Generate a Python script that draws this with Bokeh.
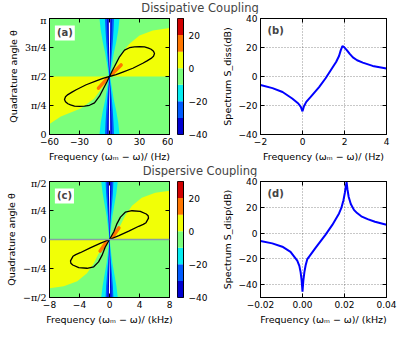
import numpy as np
from bokeh.plotting import figure
from bokeh.models import Range1d, LinearAxis, FixedTicker, Label, Span
from bokeh.layouts import column, row
from bokeh.embed import file_html
from bokeh.resources import INLINE

FONT = "DejaVu Sans"

# ---------------- data ----------------
levels = [-40, -30, -20, -10, 0, 10, 20, 30]
level_colors = ["#0000d1", "#005bff", "#05ecf1", "#7bff7b", "#f1ff06", "#ff7600", "#d10000"]
cbar_ticks = [-40, -20, 0, 20]

# (a) dissipative coupling map: frequency (Hz) vs quadrature angle (units of pi)
a_freq_ticks = [-60, -30, 0, 30, 60]
a_theta_ticks = [0, 0.25, 0.5, 0.75, 1.0]
a_theta_labels = ["0", "π/4", "π/2", "3π/4", "π"]
a_yellow_ur_x = [1.0, 4.0, 8.3, 13.3, 20.0, 30.0, 43.3, 60.0]
a_yellow_ur_t = [0.5, 0.56, 0.628, 0.713, 0.783, 0.854, 0.896, 0.918]
a_yellow_ll_x = [-1.0, -4.0, -8.0, -15.5, -28.8, -48.7, -60.0]
a_yellow_ll_t = [0.5, 0.44, 0.394, 0.309, 0.225, 0.155, 0.09]
a_band_t = [0, 0.1, 0.2, 0.3, 0.4, 0.45, 0.5, 0.55, 0.6, 0.7, 0.8, 0.9, 1.0]
a_cyan_hw = [10, 8.8, 6.8, 4.3, 2.4, 1.5, 0.8, 1.5, 2.4, 4.3, 6.8, 8.8, 10]
a_blue_hw = [4.5, 4.0, 3.3, 2.4, 1.3, 0.7, 0.3, 0.7, 1.3, 2.4, 3.3, 4.0, 4.5]
a_dark_hw = [2.3, 2.1, 1.7, 1.2, 0.7, 0.4, 0.15, 0.4, 0.7, 1.2, 1.7, 2.1, 2.3]
a_white_hw = [0.7, 0.65, 0.55, 0.4, 0.2, 0.05, 0.0, 0.05, 0.2, 0.4, 0.55, 0.65, 0.7]
a_orange_ur_x = [3.0, 11.6]
a_orange_ur_t = [0.525, 0.6]
a_orange_ll_x = [-3.0, -11.0]
a_orange_ll_t = [0.475, 0.4]
a_loop_x = [0, 2.5, 5, 10, 15, 20, 25, 30, 35, 39, 41.6, 44, 45, 44, 41.6, 37.5, 33.3, 23.3, 13.3, 6.6, 0,
            -2.5, -5, -10, -15, -20, -25, -30, -35, -39, -41.6, -44, -45, -44, -41.6, -37.5, -33.3, -23.3, -13.3, -6.6, 0]
a_loop_t = [0.5, 0.545, 0.586, 0.67, 0.727, 0.748, 0.755, 0.758, 0.755, 0.745, 0.735, 0.717, 0.698, 0.675, 0.656,
            0.635, 0.614, 0.571, 0.538, 0.516, 0.5,
            0.455, 0.414, 0.33, 0.273, 0.252, 0.245, 0.242, 0.245, 0.255, 0.265, 0.283, 0.302, 0.325, 0.344,
            0.365, 0.386, 0.429, 0.462, 0.484, 0.5]

# (b) dissipative spectrum
b_freq = [-2, -1.43, -0.95, -0.49, -0.2, -0.08, 0, 0.07, 0.18, 0.39, 0.79, 1.1, 1.43, 1.6, 1.74, 1.82, 1.9,
          1.97, 2.1, 2.25, 2.4, 2.6, 2.87, 3.34, 4]
b_spec = [-5.8, -8.0, -10.7, -15.2, -18.6, -21.0, -24.0, -20.5, -17.5, -14.1, -7.3, -1.2, 6.2, 10.0, 14.1, 18.0, 21.0,
          20.4, 18.4, 15.6, 13.2, 11.2, 9.6, 7.3, 5.5]
b_freq_ticks = [-2, 0, 2, 4]
b_spec_ticks = [-40, -20, 0, 20, 40]

# (c) dispersive coupling map: frequency (kHz) vs quadrature angle (units of pi)
c_freq_ticks = [-8, -4, 0, 4, 8]
c_theta_ticks = [-0.5, -0.25, 0, 0.25, 0.5]
c_theta_labels = ["−π/2", "−π/4", "0", "π/4", "π/2"]
c_yellow_ur_x = [0.15, 0.6, 1.46, 2.1, 3.0, 4.3, 6.1, 8.0]
c_yellow_ur_t = [0.0, 0.06, 0.122, 0.206, 0.29, 0.36, 0.402, 0.42]
c_yellow_ll_x = [-0.15, -0.6, -1.46, -2.1, -3.0, -4.3, -6.1, -8.0]
c_yellow_ll_t = [0.0, -0.06, -0.122, -0.206, -0.29, -0.36, -0.402, -0.42]
c_band_t = [-0.5, -0.4, -0.3, -0.2, -0.1, -0.05, 0, 0.05, 0.1, 0.2, 0.3, 0.4, 0.5]
c_cyan_hw = [1.1, 0.92, 0.65, 0.38, 0.19, 0.1, 0.05, 0.1, 0.19, 0.38, 0.65, 0.92, 1.1]
c_blue_hw = [0.52, 0.45, 0.33, 0.2, 0.1, 0.06, 0.02, 0.06, 0.1, 0.2, 0.33, 0.45, 0.52]
c_dark_hw = [0.27, 0.24, 0.17, 0.1, 0.05, 0.03, 0.01, 0.03, 0.05, 0.1, 0.17, 0.24, 0.27]
c_white_hw = [0.08, 0.07, 0.05, 0.03, 0.01, 0.0, 0.0, 0.0, 0.01, 0.03, 0.05, 0.07, 0.08]
c_orange_ur_x = [0.36, 1.25]
c_orange_ur_t = [0.017, 0.1]
c_orange_ll_x = [-0.36, -1.25]
c_orange_ll_t = [-0.017, -0.1]
c_loop_x = [0, 0.58, 1.0, 1.46, 2.1, 3.0, 4.1, 4.9, 5.15, 5.2, 4.87, 4.5, 3.9, 2.57, 1.25, 0,
            -0.58, -1.0, -1.46, -2.1, -3.0, -4.1, -4.9, -5.15, -5.2, -4.87, -4.5, -3.9, -2.57, -1.25, 0]
c_loop_t = [0, 0.067, 0.137, 0.193, 0.235, 0.248, 0.243, 0.22, 0.205, 0.184, 0.145, 0.13, 0.114, 0.072, 0.034, 0,
            -0.067, -0.137, -0.193, -0.235, -0.248, -0.243, -0.22, -0.205, -0.184, -0.145, -0.13, -0.114, -0.072, -0.034, 0]

# (d) dispersive spectrum
d_freq = [-0.02, -0.0144, -0.0096, -0.0057, -0.0025, -0.0015, -0.0009, -0.0004, 0, 0.0004, 0.0009, 0.0015,
          0.0023, 0.0063, 0.011, 0.0142, 0.0174, 0.0185, 0.0195, 0.0202, 0.0207, 0.021, 0.0214, 0.022, 0.023,
          0.0245, 0.026, 0.028, 0.031, 0.0345, 0.04]
d_spec = [-6.2, -8.0, -10.6, -14.6, -21.4, -25.5, -30.3, -37.0, -45.4, -37.0, -30.3, -25.0,
          -20.2, -11.3, -1.2, 6.3, 15.2, 19.5, 25.5, 31.5, 37.0, 39.5, 34.0, 28.0, 22.5,
          18.0, 15.5, 13.0, 10.8, 8.8, 6.4]
d_freq_ticks = [-0.02, 0.0, 0.02, 0.04]
d_freq_labels = ["−0.02", "0.00", "0.02", "0.04"]
d_spec_ticks = [-40, -20, 0, 20, 40]

ROW_H = 150
MBB = 29


def minus(v):
    return str(v).replace("-", "−")


def style_axis(ax, ticks, labels=None, show=True, label_font=FONT, label_size="9px"):
    ax.ticker = FixedTicker(ticks=ticks)
    ax.major_tick_in = 4
    ax.major_tick_out = 0
    ax.minor_tick_line_color = None
    ax.axis_line_color = "black"
    ax.major_tick_line_color = "black"
    ax.major_label_text_color = "black"
    ax.major_label_text_font = label_font
    ax.major_label_text_font_size = label_size
    ax.major_label_standoff = 3
    ax.axis_label_text_font = FONT
    ax.axis_label_text_font_size = "9.5px"
    ax.axis_label_text_font_style = "normal"
    ax.axis_label_text_color = "black"
    ax.axis_label_standoff = 3
    if labels is None:
        labels = [minus(t) for t in ticks]
    if show:
        ax.major_label_overrides = {t: l for t, l in zip(ticks, labels)}
    else:
        ax.major_label_text_color = None
        ax.major_label_text_font_size = "0px"
        ax.major_label_standoff = 0


def make_fig(width, height, xr, yr, mbl, mbr, mbt=4, mbb=MBB):
    p = figure(width=width, height=height, x_range=Range1d(*xr), y_range=Range1d(*yr),
               toolbar_location=None, output_backend="svg",
               min_border_left=mbl, min_border_right=mbr, min_border_top=mbt, min_border_bottom=mbb)
    p.outline_line_color = "black"
    p.outline_line_width = 1
    p.xgrid.visible = False
    p.ygrid.visible = False
    return p


def frame_axes(p, xticks, yticks, xlabels=None, ylabels=None, xlab="", ylab="", ylabel_font=FONT, ylabel_size="9px"):
    style_axis(p.xaxis[0], xticks, xlabels)
    style_axis(p.yaxis[0], yticks, ylabels, label_font=ylabel_font, label_size=ylabel_size)
    p.xaxis[0].axis_label = xlab
    p.yaxis[0].axis_label = ylab
    top = LinearAxis()
    style_axis(top, xticks, show=False)
    p.add_layout(top, "above")
    right = LinearAxis()
    style_axis(right, yticks, show=False)
    p.add_layout(right, "right")


def hourglass(t, hw):
    xs = list(hw) + [-w for w in reversed(hw)]
    ys = list(t) + list(reversed(t))
    return xs, ys


def map_panel(xr, yr, xticks, yticks, ylabels, xlab, tag, yel_ur, yel_ll, band_t, bands,
              or_ur, or_ll, loop, hline=False):
    p = make_fig(173, ROW_H, xr, yr, 49, 4)
    p.background_fill_color = level_colors[3]
    for (xs, ts) in (yel_ur, yel_ll):
        p.patch(list(xs) + [xs[-1]], list(ts) + [ts[0]], fill_color=level_colors[4], line_color=None)
    for hw, col in zip(bands, [level_colors[2], level_colors[1], level_colors[0], "white"]):
        xs, ys = hourglass(band_t, hw)
        p.patch(xs, ys, fill_color=col, line_color=None)
    for (xs, ts) in (or_ur, or_ll):
        p.line(xs, ts, line_color=level_colors[5], line_width=3.5, line_cap="round")
    if hline:
        p.add_layout(Span(location=0, dimension="width", line_color="#86a0a4", line_width=1.3))
    p.line(loop[0], loop[1], line_color="black", line_width=1.3)
    frame_axes(p, xticks, yticks, ylabels=ylabels, xlab=xlab, ylab="Quadrature angle θ",
               ylabel_font="DejaVu Serif", ylabel_size="9.5px")
    p.add_layout(Label(x=xr[0] + 0.045 * (xr[1] - xr[0]), y=yr[1] - 0.06 * (yr[1] - yr[0]), text=tag,
                       text_font=FONT, text_font_size="10px", text_font_style="bold",
                       text_baseline="top", text_align="left",
                       background_fill_color="white", padding=2))
    return p


def cbar_fig():
    c = figure(width=41, height=ROW_H, x_range=Range1d(0, 1), y_range=Range1d(levels[0], levels[-1]),
               toolbar_location=None, output_backend="svg", x_axis_location=None, y_axis_location="right",
               min_border_left=4, min_border_right=31, min_border_top=4, min_border_bottom=MBB)
    c.quad(left=0, right=1, bottom=levels[:-1], top=levels[1:], fill_color=level_colors, line_color=None)
    c.xgrid.visible = False
    c.ygrid.visible = False
    c.outline_line_color = "black"
    ax = c.yaxis[0]
    style_axis(ax, cbar_ticks)
    ax.major_tick_in = 0
    ax.major_label_standoff = 5
    return c


def spec_panel(xr, yr, x, y, xticks, yticks, xlabels, xlab, ylab, tag):
    p = make_fig(185, ROW_H, xr, yr, 46, 13)
    p.line(x, y, line_color="#0000ff", line_width=2)
    frame_axes(p, xticks, yticks, xlabels=xlabels, xlab=xlab, ylab=ylab)
    for g in (p.xgrid, p.ygrid):
        g.visible = True
        g.grid_line_color = "black"
        g.grid_line_alpha = 0.55
        g.grid_line_dash = "1 2"
        g.grid_line_width = 0.8
    p.add_layout(Label(x=xr[0] + 0.055 * (xr[1] - xr[0]), y=yr[1] - 0.06 * (yr[1] - yr[0]), text=tag,
                       text_font=FONT, text_font_size="10px", text_font_style="bold",
                       text_baseline="top", text_align="left"))
    return p


def title_fig(text, height):
    t = figure(width=399, height=height, x_range=Range1d(0, 1), y_range=Range1d(0, 1),
               toolbar_location=None, output_backend="svg", x_axis_location=None, y_axis_location=None,
               min_border=0)
    t.outline_line_color = None
    t.xgrid.visible = False
    t.ygrid.visible = False
    t.add_layout(Label(x=0.5, y=0.5, text=text, text_align="center", text_baseline="middle",
                       text_font=FONT, text_font_size="11.5px"))
    return t


pa = map_panel((-60, 60), (0, 1), a_freq_ticks, a_theta_ticks, a_theta_labels,
               "Frequency (ωₘ − ω)/ (Hz)", "(a)",
               (a_yellow_ur_x, a_yellow_ur_t), (a_yellow_ll_x, a_yellow_ll_t), a_band_t,
               [a_cyan_hw, a_blue_hw, a_dark_hw, a_white_hw],
               (a_orange_ur_x, a_orange_ur_t), (a_orange_ll_x, a_orange_ll_t), (a_loop_x, a_loop_t))
pb = spec_panel((-2, 4), (-40, 40), b_freq, b_spec, b_freq_ticks, b_spec_ticks, None,
                "Frequency (ωₘ − ω)/ (Hz)", "Spectrum S_diss(dB)", "(b)")
pc = map_panel((-8, 8), (-0.5, 0.5), c_freq_ticks, c_theta_ticks, c_theta_labels,
               "Frequency (ωₘ − ω)/ (kHz)", "(c)",
               (c_yellow_ur_x, c_yellow_ur_t), (c_yellow_ll_x, c_yellow_ll_t), c_band_t,
               [c_cyan_hw, c_blue_hw, c_dark_hw, c_white_hw],
               (c_orange_ur_x, c_orange_ur_t), (c_orange_ll_x, c_orange_ll_t), (c_loop_x, c_loop_t),
               hline=True)
pd_ = spec_panel((-0.02, 0.04), (-50, 40), d_freq, d_spec, d_freq_ticks, d_spec_ticks, d_freq_labels,
                 "Frequency (ωₘ − ω)/ (kHz)", "Spectrum S_disp(dB)", "(d)")

layout = column(
    title_fig("Dissipative Coupling", 14),
    row(pa, cbar_fig(), pb),
    title_fig("Dispersive Coupling", 13),
    row(pc, cbar_fig(), pd_),
)

open("out.html", "w").write(file_html(layout, INLINE))
